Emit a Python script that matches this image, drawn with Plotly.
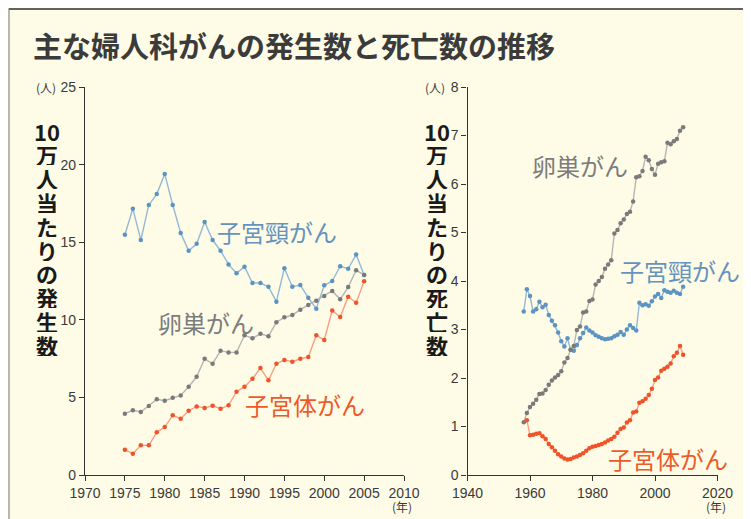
import plotly.graph_objects as go

# page offset: the figure div sits 8px from the page's top-left corner
OFF = 8
W, H = 738, 519

# ---------------- data ----------------
years_inc = list(range(1975, 2006))
cervix_inc = [15.48, 17.16, 15.14, 17.4, 18.1, 19.4, 17.4, 15.6, 14.45, 14.9,
              16.3, 15.14, 14.45, 13.57, 13.0, 13.42, 12.37, 12.37, 12.13, 11.17,
              13.32, 12.13, 12.24, 11.42, 10.72, 12.22, 12.5, 13.45, 13.29, 14.2, 12.89]
ovary_inc = [3.95, 4.17, 4.06, 4.45, 4.88, 4.79, 4.98, 5.13, 5.69, 6.33,
             7.49, 7.17, 8.01, 7.9, 7.9, 9.0, 8.81, 9.1, 8.94, 9.84,
             10.16, 10.31, 10.65, 10.95, 11.23, 11.53, 11.86, 11.32, 12.11, 13.19, 12.89]
corpus_inc = [1.63, 1.37, 1.91, 1.91, 2.75, 3.09, 3.85, 3.63, 4.14, 4.42,
              4.32, 4.47, 4.27, 4.49, 5.37, 5.69, 6.2, 6.89, 6.1, 7.17,
              7.41, 7.3, 7.49, 7.6, 9.0, 8.7, 10.6, 10.18, 11.49, 11.1, 12.48]

years_death = list(range(1958, 2010))
cervix_death = [3.37, 3.83, 3.69, 3.37, 3.42, 3.57, 3.46, 3.51, 3.30, 3.18,
                3.09, 2.94, 2.76, 2.65, 2.82, 2.58, 2.56, 2.68, 2.82, 2.93,
                3.04, 2.98, 2.94, 2.88, 2.85, 2.82, 2.80, 2.81, 2.82, 2.86,
                2.89, 2.95, 2.89, 3.00, 3.09, 3.03, 2.98, 3.55, 3.50, 3.52,
                3.49, 3.58, 3.68, 3.73, 3.65, 3.81, 3.78, 3.76, 3.80, 3.76,
                3.73, 3.88]
ovary_death = [1.09, 1.28, 1.40, 1.47, 1.55, 1.67, 1.68, 1.75, 1.86, 1.95,
               2.01, 2.06, 2.14, 2.32, 2.41, 2.58, 2.66, 2.99, 3.06, 3.35,
               3.37, 3.59, 3.62, 3.93, 4.00, 4.08, 4.25, 4.34, 4.43, 4.98,
               5.05, 5.19, 5.27, 5.38, 5.43, 5.64, 6.14, 6.16, 6.27, 6.56,
               6.49, 6.31, 6.19, 6.42, 6.45, 6.47, 6.85, 6.82, 6.88, 6.93,
               7.10, 7.17]
years_corpus_death = list(range(1959, 2010))
corpus_death = [1.13, 0.82, 0.83, 0.85, 0.86, 0.80, 0.74, 0.64, 0.57, 0.50,
                0.43, 0.38, 0.34, 0.32, 0.33, 0.36, 0.38, 0.41, 0.45, 0.50,
                0.55, 0.58, 0.60, 0.62, 0.64, 0.67, 0.71, 0.74, 0.79, 0.87,
                0.95, 0.98, 1.08, 1.13, 1.29, 1.31, 1.49, 1.52, 1.57, 1.65,
                1.78, 1.96, 2.01, 2.15, 2.19, 2.23, 2.30, 2.45, 2.52, 2.66,
                2.48]

title = "主な婦人科がんの発生数と死亡数の推移"
ytitle_left = ["10", "万", "人", "当", "た", "り", "の", "発", "生", "数"]
ytitle_right = ["10", "万", "人", "当", "た", "り", "の", "死", "亡", "数"]
lbl_cervix, lbl_ovary, lbl_corpus = "子宮頸がん", "卵巣がん", "子宮体がん"
x_ticks_left = [1970, 1975, 1980, 1985, 1990, 1995, 2000, 2005, 2010]
x_ticks_right = [1940, 1960, 1980, 2000, 2020]

# ---------------- styles ----------------
BG = "#FEFCE6"
BLUE_L, BLUE_M, BLUE_T = "#93B8D8", "#5B93C3", "#6593BE"
GRAY_L, GRAY_M, GRAY_T = "#B5B5B5", "#7A7A7A", "#7C7C7C"
ORG_L, ORG_M, ORG_T = "#F7A184", "#F0532A", "#EE5A2A"
JP = "Noto Sans CJK JP"
NUM = "Liberation Sans"


def px(x):
    return (x - OFF) / W


def py(y):
    return 1 - (y - OFF) / H


fig = go.Figure()


def add_series(x, y, lc, mc, xa, ya):
    fig.add_trace(go.Scatter(
        x=x, y=y, mode="lines+markers", xaxis=xa, yaxis=ya,
        line=dict(color=lc, width=1.4),
        marker=dict(color=mc, size=4.5),
        showlegend=False, hoverinfo="x+y"))


add_series(years_inc, cervix_inc, BLUE_L, BLUE_M, "x", "y")
add_series(years_inc, ovary_inc, GRAY_L, GRAY_M, "x", "y")
add_series(years_inc, corpus_inc, ORG_L, ORG_M, "x", "y")
add_series(years_death, cervix_death, BLUE_L, BLUE_M, "x2", "y2")
add_series(years_death, ovary_death, GRAY_L, GRAY_M, "x2", "y2")
add_series(years_corpus_death, corpus_death, ORG_L, ORG_M, "x2", "y2")

axis_common = dict(showgrid=False, zeroline=False, showline=True, automargin=False,
                   linecolor="#333", linewidth=1.2, ticks="outside",
                   ticklen=5, tickcolor="#333", tickwidth=1.2,
                   tickfont=dict(family=NUM, size=14, color="#3a3a3a"))

ydom = [py(475), py(87)]
fig.update_layout(
    width=W, height=H,
    margin=dict(l=0, r=0, t=0, b=0, pad=0, autoexpand=False),
    paper_bgcolor=BG, plot_bgcolor="rgba(0,0,0,0)",
    xaxis=dict(domain=[px(85), px(404)], range=[1970, 2010],
               tickvals=x_ticks_left, anchor="y", **axis_common),
    yaxis=dict(domain=ydom, range=[0, 25], dtick=5, anchor="x", **axis_common),
    xaxis2=dict(domain=[px(467.5), px(717.5)], range=[1940, 2020],
                tickvals=x_ticks_right, anchor="y2", **axis_common),
    yaxis2=dict(domain=ydom, range=[0, 8], dtick=1, anchor="x2", **axis_common),
)

ann = []
# title
ann.append(dict(text=f"<b>{title}</b>", x=px(31), y=py(45), xref="paper", yref="paper",
                xanchor="left", yanchor="middle", showarrow=False,
                font=dict(family=JP, size=29, color="#3b3b3b")))

# vertical axis titles (one glyph per stacked box)
for chars, cx in ((ytitle_left, 47), (ytitle_right, 437)):
    for i, ch in enumerate(chars):
        ann.append(dict(text=f"<b>{ch}</b>", x=px(cx), y=py(130 + i * 23.8),
                        xref="paper", yref="paper", xanchor="center", yanchor="middle",
                        height=23, borderpad=0, valign="middle",
                        showarrow=False, font=dict(family=JP, size=22, color="#1a1a1a")))

# unit labels
for txt, x, y in (("(人)", 46, 87), ("(人)", 435, 87), ("(年)", 402, 506), ("(年)", 716, 506)):
    ann.append(dict(text=txt, x=px(x), y=py(y), xref="paper", yref="paper",
                    xanchor="center", yanchor="middle", showarrow=False,
                    font=dict(family=JP, size=12, color="#3a3a3a")))

# series labels
for txt, x, y, c in ((lbl_cervix, 277, 232, BLUE_T), (lbl_ovary, 206, 322, GRAY_T),
                     (lbl_corpus, 305, 404, ORG_T), (lbl_ovary, 580, 165, GRAY_T),
                     (lbl_cervix, 680, 270, BLUE_T), (lbl_corpus, 668, 458, ORG_T)):
    ann.append(dict(text=txt, x=px(x), y=py(y), xref="paper", yref="paper",
                    xanchor="center", yanchor="middle", showarrow=False,
                    font=dict(family=JP, size=24, color=c)))

fig.update_layout(annotations=ann)

# frame along the paper edges
fig.add_shape(type="rect", xref="paper", yref="paper",
              x0=px(9), x1=px(745), y0=-0.05, y1=py(9),
              line=dict(color="#a0a0a0", width=1.5), fillcolor="rgba(0,0,0,0)", layer="below")
fig.add_shape(type="line", xref="paper", yref="paper",
              x0=px(9), x1=px(745), y0=py(9), y1=py(9),
              line=dict(color="#444", width=1.5))

fig.write_html("out.html")
